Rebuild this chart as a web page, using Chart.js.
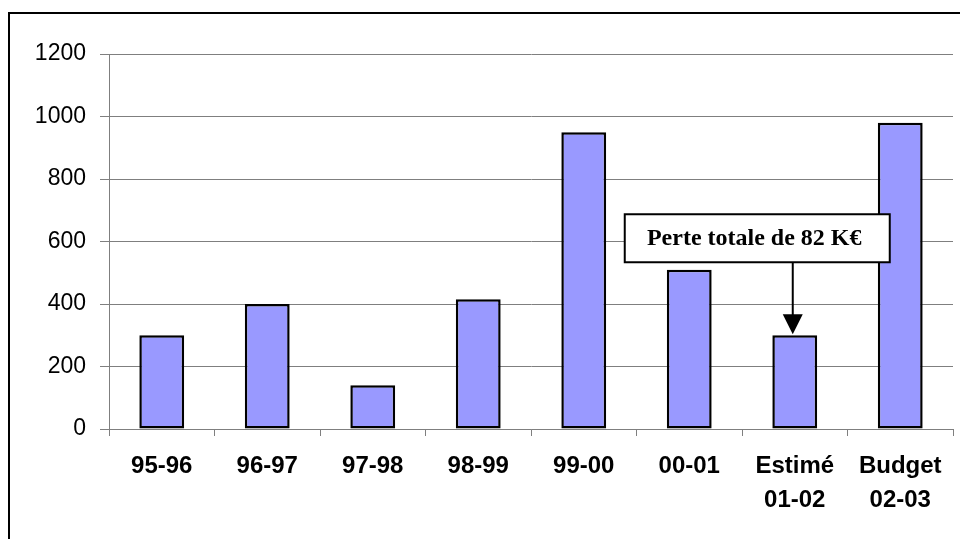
<!DOCTYPE html>
<html>
<head>
<meta charset="utf-8">
<script src="https://cdn.jsdelivr.net/npm/chart.js@4/dist/chart.umd.min.js"></script>
<style>
  html, body { margin: 0; padding: 0; background: #fff; }
  #wrap { width: 960px; height: 539px; }
</style>
</head>
<body>
<div id="wrap"><canvas id="resultChart" width="960" height="539"></canvas></div>
<script>
// Résultats par exercice (K€)
const seasons = ['95-96', '96-97', '97-98', '98-99', '99-00', '00-01', ['Estimé', '01-02'], ['Budget', '02-03']];
const results = [300, 400, 140, 415, 950, 510, 300, 980];
const yTicks = { min: 0, max: 1200, step: 200 };
const calloutText = 'Perte totale de 82 K€';
const calloutIndex = 6;

const GRID = '#7f7f7f';

// cadre noir autour du graphique
const framePlugin = {
  id: 'frame',
  beforeDraw(chart) {
    const ctx = chart.ctx;
    ctx.save();
    ctx.strokeStyle = '#000';
    ctx.lineWidth = 2;
    ctx.strokeRect(9, 13, 1200, 1200);
    ctx.restore();
  }
};

// encadré + flèche vers la barre "Estimé"
const calloutPlugin = {
  id: 'callout',
  afterDatasetsDraw(chart) {
    const bar = chart.getDatasetMeta(0).data[calloutIndex];
    const ctx = chart.ctx;
    const ax = bar.x - 2;
    const tipY = bar.y - 1;
    const boxW = 265, boxH = 48;
    const boxX = ax - 168;
    const boxY = tipY - 120;

    ctx.save();
    ctx.strokeStyle = '#000';
    ctx.fillStyle = '#000';
    ctx.lineWidth = 2;
    ctx.beginPath();
    ctx.moveTo(ax, boxY + boxH);
    ctx.lineTo(ax, tipY - 18);
    ctx.stroke();
    ctx.beginPath();
    ctx.moveTo(ax - 10, tipY - 20);
    ctx.lineTo(ax + 10, tipY - 20);
    ctx.lineTo(ax, tipY);
    ctx.closePath();
    ctx.fill();

    ctx.fillStyle = '#fff';
    ctx.fillRect(boxX, boxY, boxW, boxH);
    ctx.strokeRect(boxX, boxY, boxW, boxH);

    ctx.fillStyle = '#000';
    ctx.font = 'bold 24px "Liberation Serif", "Times New Roman", serif';
    ctx.textAlign = 'center';
    ctx.textBaseline = 'middle';
    ctx.fillText(calloutText, boxX + boxW / 2 - 3, boxY + boxH / 2 + 1);
    ctx.restore();
  }
};

new Chart(document.getElementById('resultChart'), {
  type: 'bar',
  data: {
    labels: seasons,
    datasets: [{
      data: results,
      backgroundColor: '#9999ff',
      borderColor: '#000',
      borderWidth: 2.5,
      borderSkipped: false,
      barPercentage: 0.425,
      categoryPercentage: 1
    }]
  },
  options: {
    responsive: false,
    animation: false,
    layout: { padding: { top: 54, right: 7, left: 0, bottom: 0 } },
    plugins: {
      legend: { display: false },
      tooltip: { enabled: false }
    },
    scales: {
      x: {
        grid: { drawOnChartArea: false, color: GRID, tickLength: 7, offset: true },
        border: { color: GRID, width: 1 },
        ticks: {
          color: '#000',
          padding: 14,
          maxRotation: 0,
          autoSkip: false,
          font: { family: '"Liberation Sans", Arial, sans-serif', size: 24, weight: 'bold', lineHeight: 1.4 }
        },
        afterFit(scale) { scale.height = 110; }
      },
      y: {
        min: yTicks.min,
        max: yTicks.max,
        grid: { color: GRID, lineWidth: 1, tickLength: 9 },
        border: { color: GRID, width: 1 },
        ticks: {
          stepSize: yTicks.step,
          color: '#000',
          padding: 14,
          font: { family: '"Liberation Sans", Arial, sans-serif', size: 23 },
          callback: (v) => String(v)
        },
        afterFit(scale) { scale.width = 109; }
      }
    }
  },
  plugins: [framePlugin, calloutPlugin]
});
</script>
</body>
</html>
